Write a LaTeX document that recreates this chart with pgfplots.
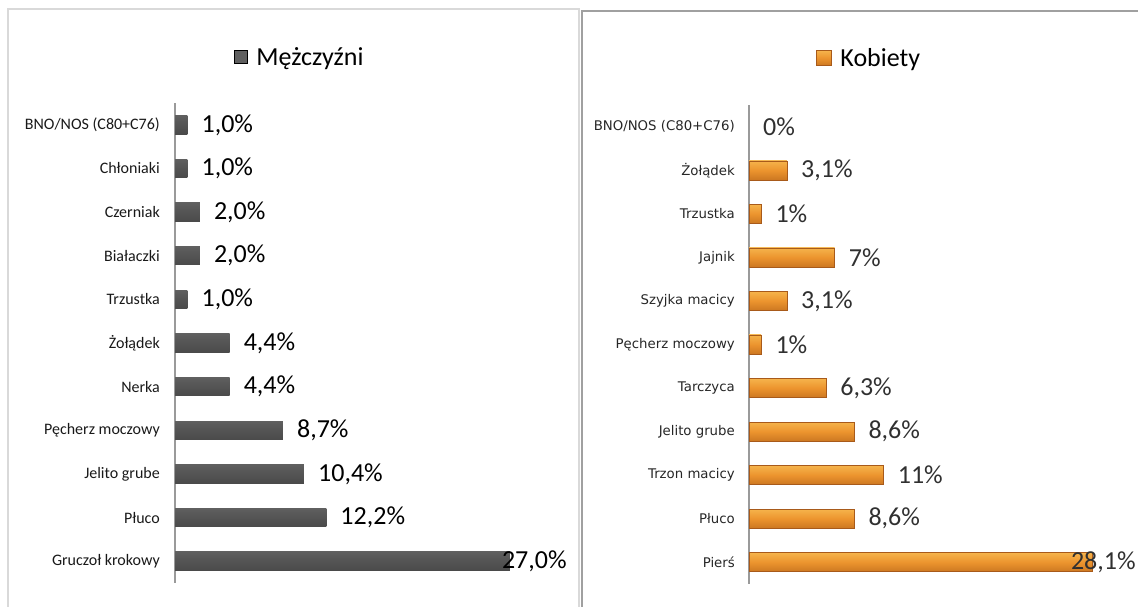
\documentclass[border=0pt]{standalone}
\usepackage{fontspec}
\setmainfont{Carlito}
\newfontfamily\tah{DejaVu Sans}
\usepackage{pgfplots}
\pgfplotsset{compat=1.18}

\definecolor{barTop}{HTML}{6A6A6A}
\definecolor{barBot}{HTML}{434343}
\definecolor{oDraw}{HTML}{A85A1A}
\definecolor{frameL}{HTML}{D9D9D9}
\definecolor{frameR}{HTML}{A0A0A0}
\definecolor{axline}{HTML}{9A9A9A}
\definecolor{labR}{HTML}{303030}

\pgfdeclareverticalshading{obevel}{100bp}{%
  color(0bp)=(rgb,255:red,140;green,76;blue,22);
  color(22bp)=(rgb,255:red,200;green,116;blue,32);
  color(50bp)=(rgb,255:red,236;green,148;blue,46);
  color(74bp)=(rgb,255:red,245;green,178;blue,74);
  color(88bp)=(rgb,255:red,251;green,212;blue,124);
  color(100bp)=(rgb,255:red,242;green,172;blue,80)}
\pgfdeclareverticalshading{gbevel}{100bp}{%
  color(0bp)=(rgb,255:red,64;green,64;blue,64);
  color(60bp)=(rgb,255:red,88;green,88;blue,88);
  color(100bp)=(rgb,255:red,108;green,108;blue,108)}

\pgfplotsset{
  common/.style={
    scale only axis, anchor=south west,
    xmin=0, xmax=30, ymin=-0.5, ymax=10.5,
    axis x line=none, axis y line*=left,
    y axis line style={draw=axline, line width=1.3pt, -},
    ytick={0,...,10}, major tick length=0pt,
    clip=false,
    legend style={draw=none, fill=none, inner sep=0pt, font=\fontsize{26}{31}\selectfont},
  },
  vlab/.style={point meta=explicit symbolic, nodes near coords,
    every node near coord/.append style={anchor=west, inner sep=0pt, xshift=#1, font=\fontsize{26}{30}\selectfont}},
  mbar/.style={xbar, bar width=18.5pt, bar shift=0pt, draw=none, shading=gbevel, forget plot},
  obar/.style={xbar, bar width=19pt, bar shift=0pt, draw=oDraw, line width=0.6pt, shading=obevel, forget plot},
}

\begin{document}
\begin{tikzpicture}[x=1pt,y=1pt]
\path[use as bounding box, clip] (0,0) rectangle (1138,607);
\draw[color=frameL, line width=2pt] (8,-10) |- (579,598) -- (579,-10);
\draw[color=frameR, line width=2pt] (582,-10) |- (1150,596);

% ---------------- Mężczyźni ----------------
\begin{axis}[common,
  at={(175pt,24pt)}, width=372pt, height=480pt,
  yticklabels={Gruczoł krokowy, Płuco, Jelito grube, Pęcherz moczowy, Nerka, Żołądek, Trzustka, Białaczki, Czerniak\ , Chłoniaki, BNO/NOS (C80+C76)},
  yticklabel style={font=\fontsize{16}{19}\selectfont, inner sep=0pt, xshift=-15pt, text=black!90},
  legend style={at={(0.158,1.096)}, anchor=west},
]
\addlegendimage{legend image code/.code={\fill[fill=barBot!85!white] (0pt,-6.5pt) rectangle (13pt,6.5pt); \path (20pt,0pt);}}
\addlegendentry{Mężczyźni}
\addplot[mbar, vlab=-8pt] coordinates {(27.0,0) [27,0\%]};
\addplot[mbar, vlab=14pt] coordinates {(12.2,1) [12,2\%]};
\addplot[mbar, vlab=14pt] coordinates {(10.4,2) [10,4\%]};
\addplot[mbar, vlab=14pt] coordinates {(8.7,3) [8,7\%]};
\addplot[mbar, vlab=14pt] coordinates {(4.4,4) [4,4\%]};
\addplot[mbar, vlab=14pt] coordinates {(4.4,5) [4,4\%]};
\addplot[mbar, vlab=14pt] coordinates {(1.0,6) [1,0\%]};
\addplot[mbar, vlab=14pt] coordinates {(2.0,7) [2,0\%]};
\addplot[mbar, vlab=14pt] coordinates {(2.0,8) [2,0\%]};
\addplot[mbar, vlab=14pt] coordinates {(1.0,9) [1,0\%]};
\addplot[mbar, vlab=14pt] coordinates {(1.0,10) [1,0\%]};
\end{axis}

% ---------------- Kobiety ----------------
\begin{axis}[common,
  at={(749pt,23pt)}, width=367pt, height=479pt,
  yticklabels={Pierś, Płuco, Trzon macicy, Jelito grube, Tarczyca, Pęcherz moczowy, Szyjka macicy, Jajnik, Trzustka, Żołądek, BNO/NOS (C80+C76)},
  yticklabel style={font=\tah\fontsize{13.3}{16}\selectfont, inner sep=0pt, xshift=-14pt, text=black!85},
  legend style={at={(0.182,1.098)}, anchor=west},
  every node near coord/.append style={text=labR},
]
\addlegendimage{legend image code/.code={\shade[shading=obevel] (0pt,-7.5pt) rectangle (15pt,7.5pt); \draw[oDraw, line width=0.5pt] (0pt,-7.5pt) rectangle (15pt,7.5pt); \path (22pt,0pt);}}
\addlegendentry{Kobiety}
\addplot[obar, vlab=-22pt] coordinates {(28.1,0) [28,1\%]};
\addplot[obar, vlab=14pt] coordinates {(8.6,1) [8,6\%]};
\addplot[obar, vlab=14pt] coordinates {(11,2) [11\%]};
\addplot[obar, vlab=14pt] coordinates {(8.6,3) [8,6\%]};
\addplot[obar, vlab=14pt] coordinates {(6.3,4) [6,3\%]};
\addplot[obar, vlab=14pt] coordinates {(1,5) [1\%]};
\addplot[obar, vlab=14pt] coordinates {(3.1,6) [3,1\%]};
\addplot[obar, vlab=14pt] coordinates {(7,7) [7\%]};
\addplot[obar, vlab=14pt] coordinates {(1,8) [1\%]};
\addplot[obar, vlab=14pt] coordinates {(3.1,9) [3,1\%]};
\addplot[xbar, bar width=19pt, bar shift=0pt, draw=none, fill=none, vlab=14pt, forget plot] coordinates {(0,10) [0\%]};
\end{axis}
\end{tikzpicture}
\end{document}
